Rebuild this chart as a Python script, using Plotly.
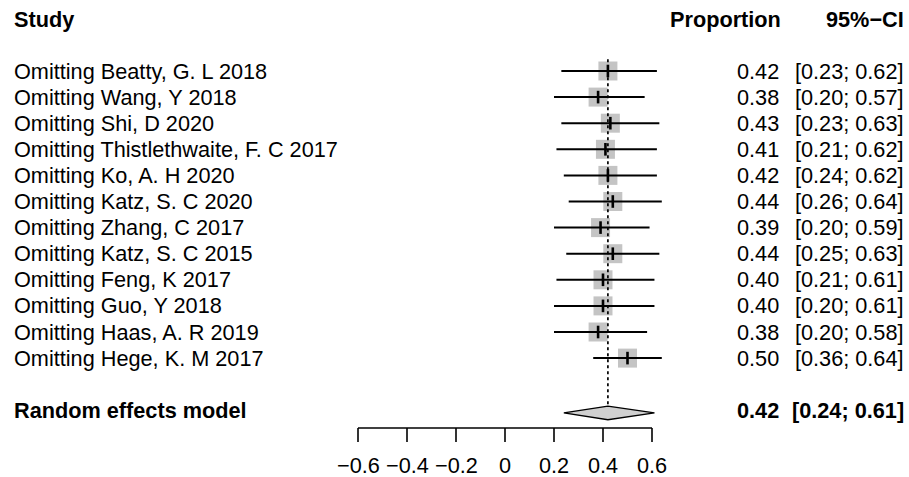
import plotly.graph_objects as go

studies = ["Omitting Beatty, G. L 2018", "Omitting Wang, Y 2018", "Omitting Shi, D 2020",
           "Omitting Thistlethwaite, F. C 2017", "Omitting Ko, A. H 2020", "Omitting Katz, S. C 2020",
           "Omitting Zhang, C 2017", "Omitting Katz, S. C 2015", "Omitting Feng, K 2017",
           "Omitting Guo, Y 2018", "Omitting Haas, A. R 2019", "Omitting Hege, K. M 2017"]
est = [0.42, 0.38, 0.43, 0.41, 0.42, 0.44, 0.39, 0.44, 0.40, 0.40, 0.38, 0.50]
lower = [0.23, 0.20, 0.23, 0.21, 0.24, 0.26, 0.20, 0.25, 0.21, 0.20, 0.20, 0.36]
upper = [0.62, 0.57, 0.63, 0.62, 0.62, 0.64, 0.59, 0.63, 0.61, 0.61, 0.58, 0.64]
pooled_label = "Random effects model"
pooled = [0.42, 0.24, 0.61]
tick_vals = [-0.6, -0.4, -0.2, 0, 0.2, 0.4, 0.6]
tick_text = ["\u22120.6", "\u22120.4", "\u22120.2", "0", "0.2", "0.4", "0.6"]

W, H = 909, 477
FONT = "Liberation Sans, Arial, sans-serif"
FS = 21.7
rows = list(range(len(studies)))
pooled_row = 13
diamond_row = 13.1
diamond_half = 0.26
axis_row = 13.68
tick_end_row = 14.21
label_row = 15.13
header_row = -1.98

fig = go.Figure()

# CI lines
for r, lo, hi in zip(rows, lower, upper):
    fig.add_shape(type="line", x0=lo, x1=hi, y0=r, y1=r, xref="x", yref="y",
                  line=dict(color="black", width=2))

# reference dotted line
fig.add_shape(type="line", x0=pooled[0], x1=pooled[0], y0=-0.45, y1=diamond_row - diamond_half,
              xref="x", yref="y", line=dict(color="black", width=1.7, dash="dot"))

# squares
fig.add_trace(go.Scatter(x=est, y=rows, mode="markers",
                         marker=dict(symbol="square", size=19, color="#c4c4c4",
                                     line=dict(width=0)), hoverinfo="skip"))
# central ticks
fig.add_trace(go.Scatter(x=est, y=rows, mode="markers",
                         marker=dict(symbol="line-ns", size=9, color="black",
                                     line=dict(width=2.6, color="black")), hoverinfo="skip"))

# diamond
fig.add_trace(go.Scatter(x=[pooled[1], pooled[0], pooled[2], pooled[0], pooled[1]],
                         y=[diamond_row, diamond_row - diamond_half, diamond_row,
                            diamond_row + diamond_half, diamond_row],
                         mode="lines", fill="toself", fillcolor="#d0d0d0",
                         line=dict(color="black", width=1.4), hoverinfo="skip"))

# axis
fig.add_shape(type="line", x0=tick_vals[0], x1=tick_vals[-1], y0=axis_row, y1=axis_row,
              xref="x", yref="y", line=dict(color="black", width=1.6))
for v, t in zip(tick_vals, tick_text):
    fig.add_shape(type="line", x0=v, x1=v, y0=axis_row, y1=tick_end_row,
                  xref="x", yref="y", line=dict(color="black", width=1.6))
    fig.add_annotation(x=v, y=label_row, xref="x", yref="y", text=t, showarrow=False,
                       xanchor="center", yanchor="middle", font=dict(family=FONT, size=FS, color="black"))

def px(p):
    return p / W

# headers
fig.add_annotation(x=px(12), y=header_row, xref="paper", yref="y", text="<b>Study</b>",
                   showarrow=False, xanchor="left", yanchor="middle", font=dict(family=FONT, size=FS, color="black"))
fig.add_annotation(x=px(783), y=header_row, xref="paper", yref="y", text="<b>Proportion</b>",
                   showarrow=False, xanchor="right", yanchor="middle", font=dict(family=FONT, size=FS, color="black"))
fig.add_annotation(x=px(906), y=header_row, xref="paper", yref="y", text="<b>95%\u2212CI</b>",
                   showarrow=False, xanchor="right", yanchor="middle", font=dict(family=FONT, size=FS, color="black"))

for r, s, e, lo, hi in zip(rows, studies, est, lower, upper):
    fig.add_annotation(x=px(12), y=r, xref="paper", yref="y", text=s, showarrow=False,
                       xanchor="left", yanchor="middle", font=dict(family=FONT, size=FS, color="black"))
    fig.add_annotation(x=px(781), y=r, xref="paper", yref="y", text=f"{e:.2f}", showarrow=False,
                       xanchor="right", yanchor="middle", font=dict(family=FONT, size=FS, color="black"))
    fig.add_annotation(x=px(906), y=r, xref="paper", yref="y", text=f"[{lo:.2f}; {hi:.2f}]", showarrow=False,
                       xanchor="right", yanchor="middle", font=dict(family=FONT, size=FS, color="black"))

fig.add_annotation(x=px(12), y=pooled_row, xref="paper", yref="y", text=f"<b>{pooled_label}</b>",
                   showarrow=False, xanchor="left", yanchor="middle", font=dict(family=FONT, size=FS, color="black"))
fig.add_annotation(x=px(781), y=pooled_row, xref="paper", yref="y", text=f"<b>{pooled[0]:.2f}</b>",
                   showarrow=False, xanchor="right", yanchor="middle", font=dict(family=FONT, size=FS, color="black"))
fig.add_annotation(x=px(906), y=pooled_row, xref="paper", yref="y",
                   text=f"<b>[{pooled[1]:.2f}; {pooled[2]:.2f}]</b>",
                   showarrow=False, xanchor="right", yanchor="middle", font=dict(family=FONT, size=FS, color="black"))

# pixel mapping: x px = 505 + 245*v ; y px = 71 + 26.1*row
x0 = -505 / 245
x1 = (W - 505) / 245
y_top = -71 / 26.1
y_bot = (H - 71) / 26.1

fig.update_layout(width=W, height=H, margin=dict(l=0, r=0, t=0, b=0),
                  paper_bgcolor="white", plot_bgcolor="white", showlegend=False,
                  xaxis=dict(range=[x0, x1], visible=False, fixedrange=True),
                  yaxis=dict(range=[y_bot, y_top], visible=False, fixedrange=True))

fig.write_html("out.html")
